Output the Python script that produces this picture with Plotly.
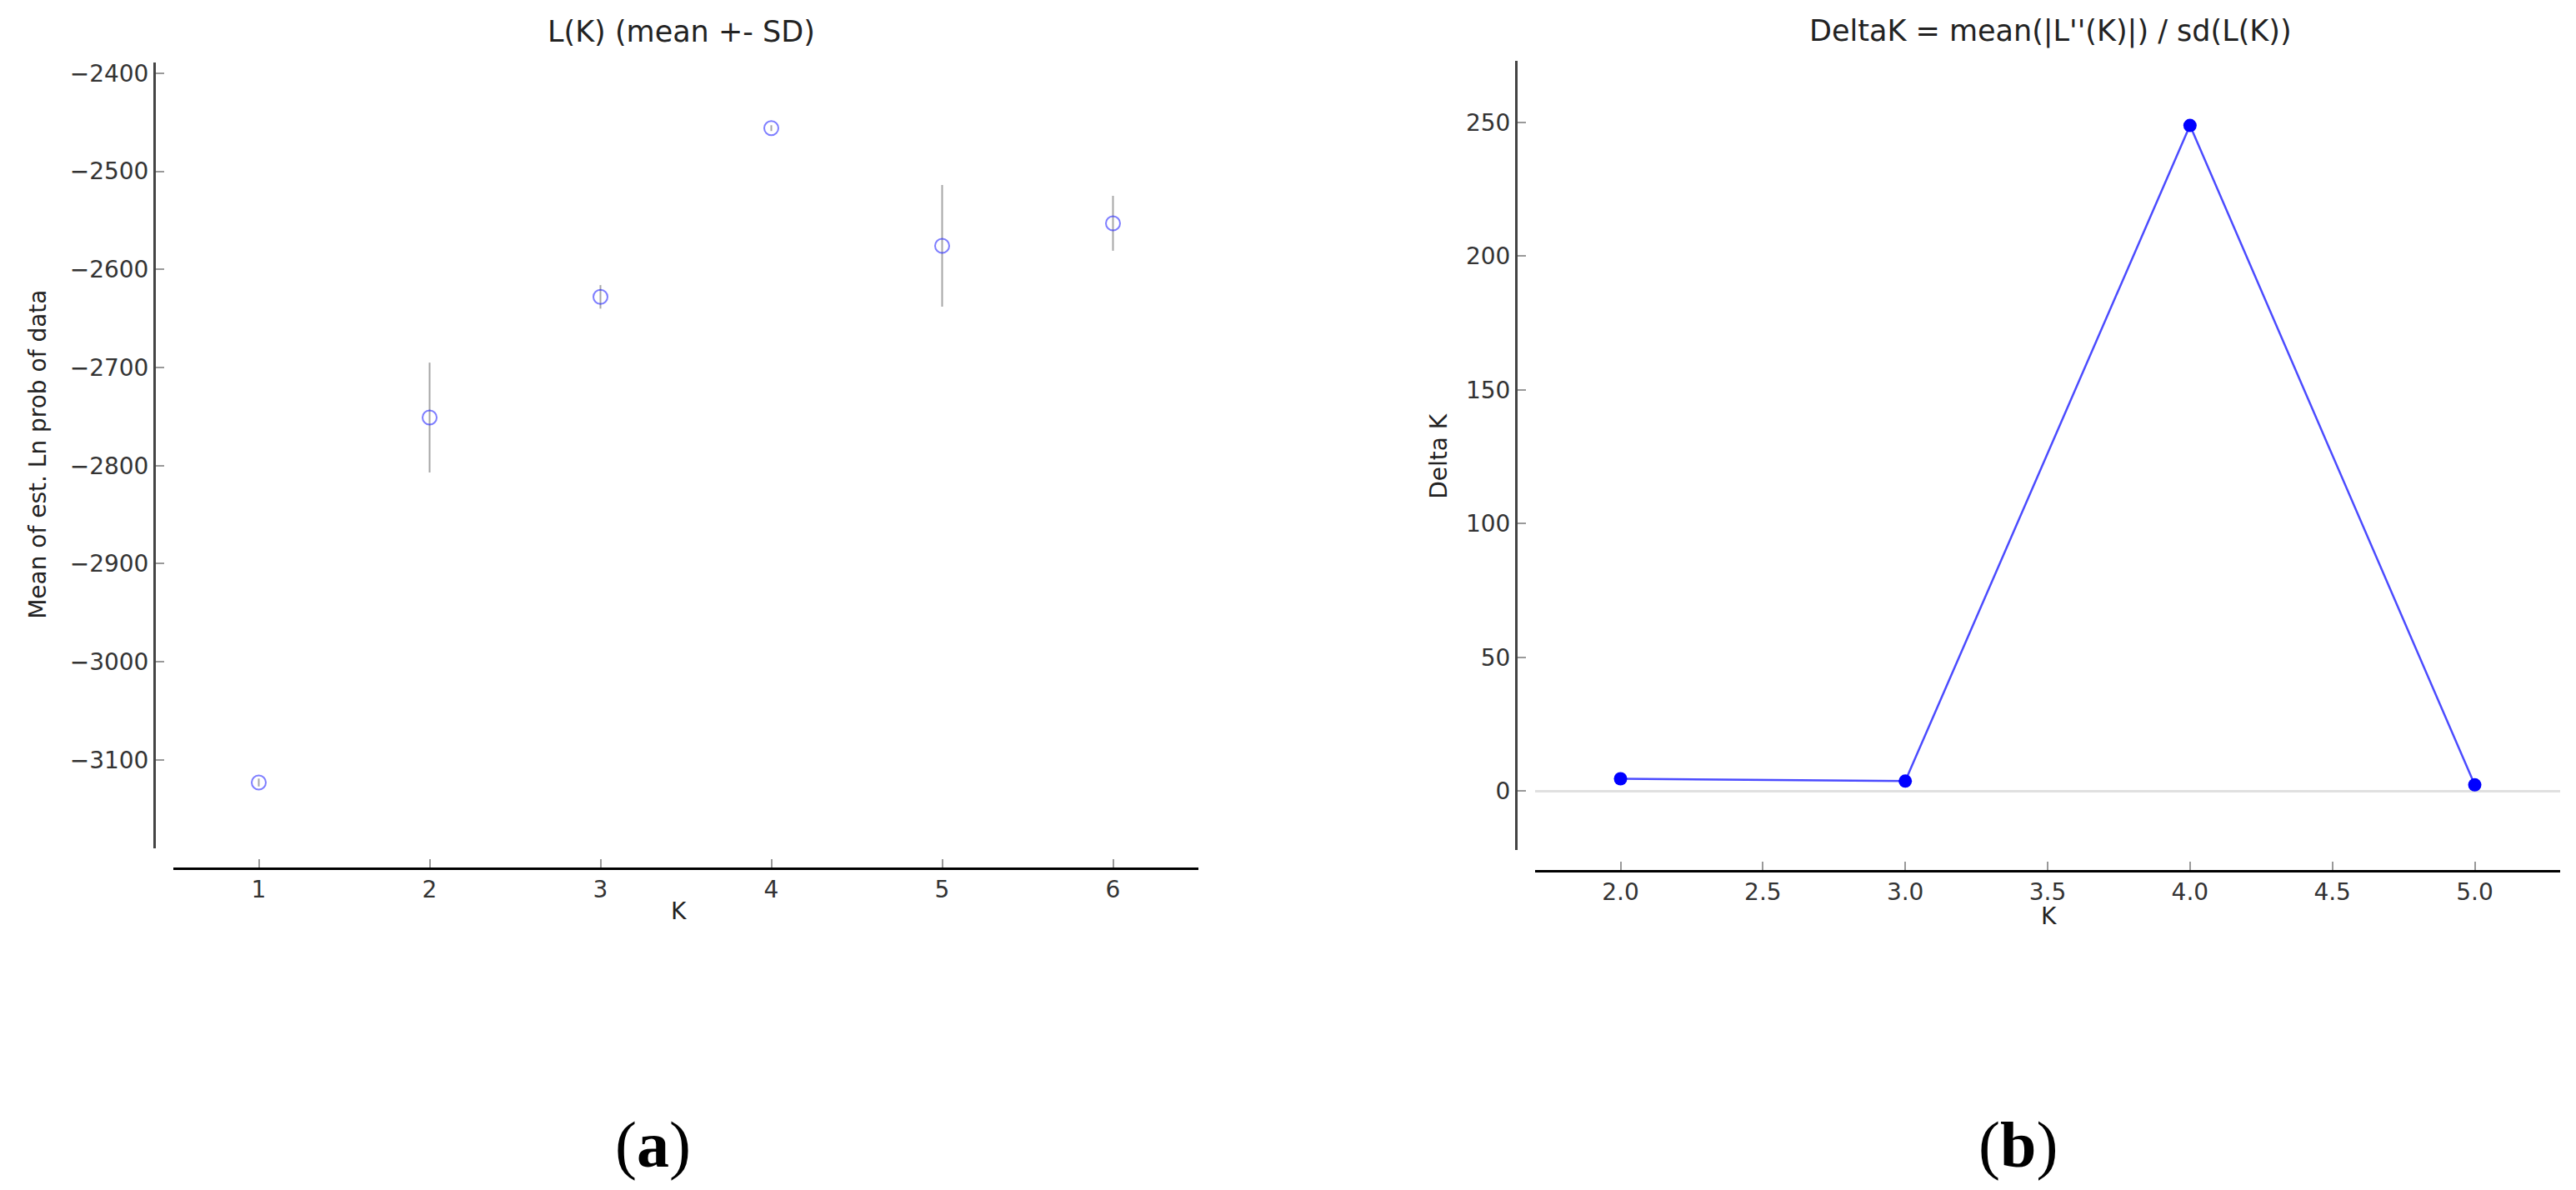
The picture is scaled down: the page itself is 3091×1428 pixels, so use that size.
import plotly.graph_objects as go

# ---------------- data ----------------
K_left = [1, 2, 3, 4, 5, 6]
mean_lnp = [-3123, -2751, -2628, -2456, -2576, -2553]
sd_lnp = [4, 56, 12, 3, 62, 28]

K_right = [2, 3, 4, 5]
delta_k = [4.6, 3.7, 248.8, 2.3]

left_xticks = [1, 2, 3, 4, 5, 6]
left_yticks = [-3100, -3000, -2900, -2800, -2700, -2600, -2500, -2400]
left_yticktext = ["\u2212" + str(abs(v)) for v in left_yticks]
right_xticks = [2.0, 2.5, 3.0, 3.5, 4.0, 4.5, 5.0]
right_xticktext = ["2.0", "2.5", "3.0", "3.5", "4.0", "4.5", "5.0"]
right_yticks = [0, 50, 100, 150, 200, 250]

title_left = "L(K) (mean +- SD)"
title_right = "DeltaK = mean(|L''(K)|) / sd(L(K))"
ytitle_left = "Mean of est. Ln prob of data"
ytitle_right = "Delta K"
xtitle = "K"

# ---------------- layout helpers ----------------
W, H = 3091, 1428
PAD = 8  # default page body margin
FW, FH = W - PAD, H - PAD
def fx(px):
    return (px - PAD) / FW
def fy(py):
    return 1 - (py - PAD) / FH

FONT = "DejaVu Sans"
tickfont = dict(family=FONT, size=28, color="#333333")

fig = go.Figure()

fig.add_trace(go.Scatter(
    x=K_left, y=mean_lnp, mode="markers",
    error_y=dict(type="data", array=sd_lnp, visible=True, color="rgba(150,150,150,0.85)",
                 thickness=2, width=0),
    marker=dict(symbol="circle-open", size=17, color="rgba(40,40,255,0.6)", line=dict(width=2)),
    xaxis="x", yaxis="y", showlegend=False, hoverinfo="x+y",
))

fig.add_trace(go.Scatter(
    x=K_right, y=delta_k, mode="lines+markers",
    line=dict(color="rgba(30,30,255,0.8)", width=2.5),
    marker=dict(symbol="circle", size=16, color="#0000ff"),
    xaxis="x2", yaxis="y2", showlegend=False,
))

axis_common = dict(showgrid=False, ticks="inside", ticklen=10, tickwidth=2, tickcolor="#999999",
                   showline=True, linewidth=3, tickfont=tickfont, anchor="free")

fig.update_layout(
    width=FW, height=FH,
    margin=dict(l=0, r=0, t=0, b=0),
    paper_bgcolor="white", plot_bgcolor="white",
    showlegend=False,
    xaxis=dict(axis_common, domain=[fx(208), fx(1438)], position=fy(1041),
               range=[0.5, 6.5], tickvals=left_xticks, linecolor="black", zeroline=False),
    yaxis=dict(axis_common, domain=[fy(1017), fy(72)], position=fx(185),
               range=[-3190, -2389], tickvals=left_yticks, ticktext=left_yticktext,
               linecolor="#444444", zeroline=False),
    xaxis2=dict(axis_common, domain=[fx(1842), fx(3072)], position=fy(1044),
                range=[1.7, 5.3], tickvals=right_xticks, ticktext=right_xticktext,
                linecolor="black", zeroline=False),
    yaxis2=dict(axis_common, domain=[fy(1019), fy(70)], position=fx(1819),
                range=[-22, 273], tickvals=right_yticks, linecolor="#444444",
                zeroline=True, zerolinecolor="#e0e0e0", zerolinewidth=3),
)

ann_font_title = dict(family=FONT, size=35, color="#222222")
ann_font_axis = dict(family=FONT, size=28, color="#222222")
annotations = [
    dict(text=title_left, x=fx(817), y=fy(35), font=ann_font_title),
    dict(text=title_right, x=fx(2460), y=fy(35), font=ann_font_title),
    dict(text=ytitle_left, x=fx(46), y=fy(544), font=ann_font_axis, textangle=-90),
    dict(text=ytitle_right, x=fx(1727), y=fy(546), font=ann_font_axis, textangle=-90),
    dict(text=xtitle, x=fx(814), y=fy(1093), font=ann_font_axis),
    dict(text=xtitle, x=fx(2458), y=fy(1099), font=ann_font_axis),
    dict(text="(<b>a</b>)", x=fx(783), y=fy(1373),
         font=dict(family="Liberation Serif", size=78, color="black")),
    dict(text="(<b>b</b>)", x=fx(2421), y=fy(1373),
         font=dict(family="Liberation Serif", size=78, color="black")),
]
for a in annotations:
    a.update(xref="paper", yref="paper", xanchor="center", yanchor="middle", showarrow=False)
fig.update_layout(annotations=annotations)

fig.write_html("out.html")
